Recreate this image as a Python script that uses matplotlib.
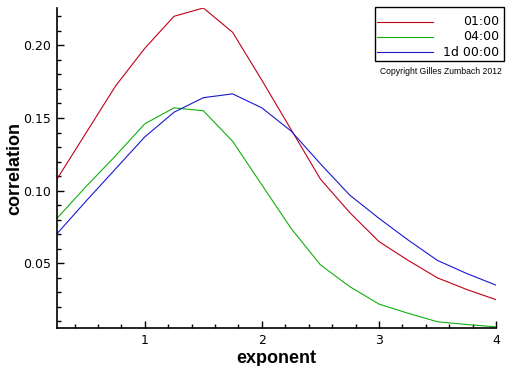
import matplotlib
matplotlib.use("Agg")
import matplotlib.pyplot as plt
from matplotlib.ticker import MultipleLocator, FixedLocator, FormatStrFormatter
from matplotlib.lines import Line2D
from matplotlib.patches import Rectangle

plt.rcParams['font.family'] = ['DejaVu Sans']

# exposant de la puissance et correlations
exponent = [0.25, 0.5, 0.75, 1.0, 1.25, 1.5, 1.75, 2.0, 2.25, 2.5,
            2.75, 3.0, 3.25, 3.5, 3.75, 4.0]
corr_1h = [0.108, 0.140, 0.172, 0.198, 0.220, 0.2257, 0.209, 0.176, 0.142, 0.108,
           0.085, 0.065, 0.052, 0.040, 0.032, 0.025]
corr_4h = [0.081, 0.103, 0.124, 0.146, 0.157, 0.155, 0.134, 0.104, 0.074, 0.049,
           0.034, 0.022, 0.0156, 0.0098, 0.0079, 0.0063]
corr_1d = [0.0704, 0.093, 0.115, 0.137, 0.154, 0.164, 0.1666, 0.157, 0.141, 0.1185,
           0.097, 0.081, 0.066, 0.052, 0.043, 0.035]

labels = ["01:00", "04:00", "1d 00:00"]
colors = ['#c00018', '#10b010', '#1818d0']
series = [corr_1h, corr_4h, corr_1d]

fig = plt.figure(figsize=(5.12, 3.66), dpi=100)
ax = fig.add_axes([57 / 512, 1 - 328.3 / 366, (496 - 57) / 512, (328.3 - 8) / 366])

for ys, c in zip(series, colors):
    ax.plot(exponent, ys, color=c, linewidth=0.8)

ax.set_xlim(0.25, 4.0)
ax.set_ylim(0.0053, 0.2257)

for side in ['top', 'right']:
    ax.spines[side].set_visible(False)
for side in ['left', 'bottom']:
    ax.spines[side].set_linewidth(1.2)

ax.xaxis.set_major_locator(FixedLocator([1, 2, 3, 4]))
ax.xaxis.set_major_formatter(FormatStrFormatter('%d'))
ax.xaxis.set_minor_locator(MultipleLocator(0.2))
ax.yaxis.set_major_locator(MultipleLocator(0.05))
ax.yaxis.set_major_formatter(FormatStrFormatter('%.2f'))
ax.yaxis.set_minor_locator(MultipleLocator(0.01))

ax.tick_params(which='major', direction='in', length=5, width=1, labelsize=9, pad=4)
ax.tick_params(which='minor', direction='in', length=3, width=1)

lab_font = dict(family='Liberation Sans', fontsize=13, fontweight='bold')
ax.set_xlabel("exponent", labelpad=2, **lab_font)
ax.set_ylabel("correlation", labelpad=0, **lab_font)

# legende dessinee a la main (texte aligne a droite)
x0, x1 = 375 / 512, 504 / 512
y0, y1 = 1 - 61 / 366, 1 - 7 / 366
fig.add_artist(Rectangle((x0, y0), x1 - x0, y1 - y0, transform=fig.transFigure,
                         facecolor='white', edgecolor='black', linewidth=1))
for i, (lab, c) in enumerate(zip(labels, colors)):
    yy = 1 - (21.7 + 15.3 * i) / 366
    fig.add_artist(Line2D([377 / 512, 433 / 512], [yy, yy], transform=fig.transFigure,
                          color=c, linewidth=0.8))
    fig.text(499 / 512, yy, lab, ha='right', va='center', fontsize=9)

fig.text(441 / 512, 1 - 71 / 366, "Copyright Gilles Zumbach 2012",
         ha='center', va='center', fontsize=6.2, family='Liberation Sans')

fig.savefig("out.png", dpi=100)
